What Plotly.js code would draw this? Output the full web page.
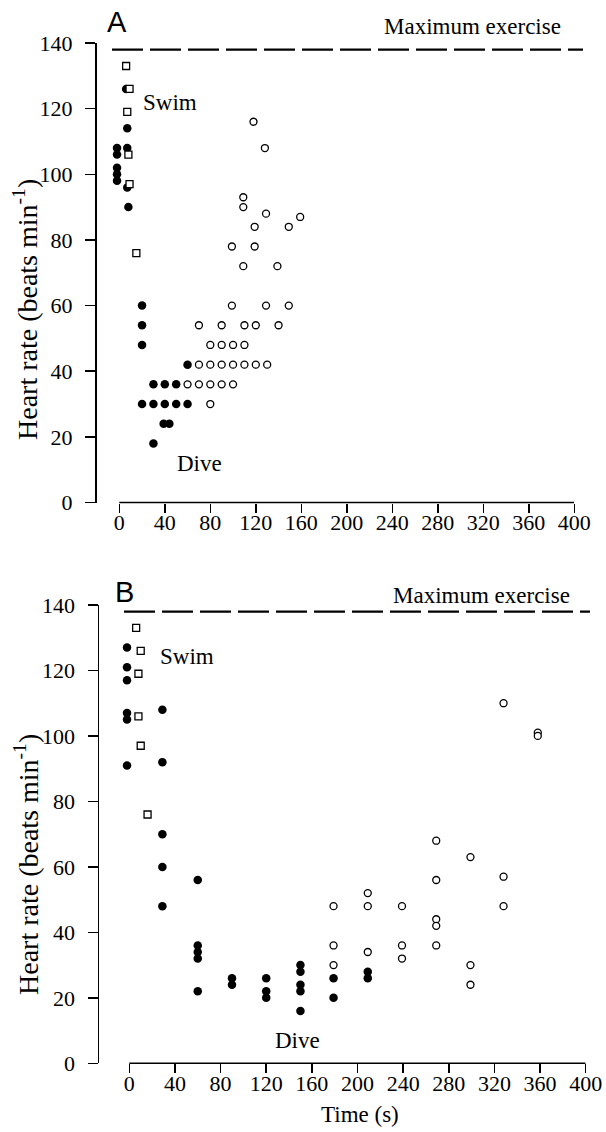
<!DOCTYPE html>
<html>
<head>
<meta charset="utf-8">
<script src="https://cdn.plot.ly/plotly-3.0.1.min.js"></script>
<style>html,body{margin:0;padding:0;background:#fff;}</style>
</head>
<body>
<div id="chart" style="width:606px;height:1132px;"></div>
<script>
// ---------- DATA ----------
const xTicks = [0, 40, 80, 120, 160, 200, 240, 280, 320, 360, 400];
const yTicks = [0, 20, 40, 60, 80, 100, 120, 140];
const maxExercise = 138;

// Panel A
const aSwimT  = [6, 9, 7, 8, 9, 15];
const aSwimHR = [133, 126, 119, 106, 97, 76];
const aDiveT  = [-2, -2, -2, -2, -2, 6, 7, 7, 7, 8, 20, 20, 20, 60, 30, 40, 50, 20, 30, 40, 50, 60, 39, 44, 30];
const aDiveHR = [108, 106, 102, 100, 98, 126, 114, 108, 96, 90, 60, 54, 48, 42, 36, 36, 36, 30, 30, 30, 30, 30, 24, 24, 18];
const aRecT   = [118, 128, 109, 109, 129, 119, 149, 159, 99, 119, 109, 139,
                 99, 129, 149, 70, 90, 110, 120, 140, 80, 90, 100, 110,
                 70, 80, 90, 100, 110, 120, 130, 60, 70, 80, 90, 100, 80];
const aRecHR  = [116, 108, 93, 90, 88, 84, 84, 87, 78, 78, 72, 72,
                 60, 60, 60, 54, 54, 54, 54, 54, 48, 48, 48, 48,
                 42, 42, 42, 42, 42, 42, 42, 36, 36, 36, 36, 36, 30];

// Panel B
const bSwimT  = [6, 10, 8, 8, 10, 16];
const bSwimHR = [133, 126, 119, 106, 97, 76];
const bDiveT  = [-2, -2, -2, -2, -2, -2, 29, 29, 29, 29, 29, 60, 60, 60, 60, 60,
                 90, 90, 120, 120, 120, 150, 150, 150, 150, 150, 179, 179, 209, 209];
const bDiveHR = [127, 121, 117, 107, 105, 91, 108, 92, 70, 60, 48, 56, 36, 34, 32, 22,
                 26, 24, 26, 22, 20, 30, 28, 24, 22, 16, 26, 20, 28, 26];
const bRecT   = [179, 179, 179, 209, 209, 209, 239, 239, 239, 269, 269, 269, 269, 269,
                 299, 299, 299, 328, 328, 328, 358, 358];
const bRecHR  = [48, 36, 30, 52, 48, 34, 48, 36, 32, 68, 56, 44, 42, 36,
                 63, 30, 24, 110, 57, 48, 101, 100];

// ---------- LAYOUT HELPERS ----------
const W = 606, H = 1132;
const fx = p => p / W;
const fy = p => 1 - p / H;
const SERIF = '"Liberation Serif", "DejaVu Serif", serif';
const SANS = '"Liberation Sans", Arial, sans-serif';

function filled(x, y, xa, ya) {
  return {x: x, y: y, xaxis: xa, yaxis: ya, type: 'scatter', mode: 'markers',
    marker: {symbol: 'circle', size: 8.5, color: '#000', line: {width: 0}}, hoverinfo: 'x+y'};
}
function openC(x, y, xa, ya) {
  return {x: x, y: y, xaxis: xa, yaxis: ya, type: 'scatter', mode: 'markers',
    marker: {symbol: 'circle', size: 7, color: '#fff', line: {width: 1.3, color: '#000'}}, hoverinfo: 'x+y'};
}
function square(x, y, xa, ya) {
  return {x: x, y: y, xaxis: xa, yaxis: ya, type: 'scatter', mode: 'markers',
    marker: {symbol: 'square', size: 7, color: '#fff', line: {width: 1.3, color: '#000'}}, hoverinfo: 'x+y'};
}

const data = [
  filled(aDiveT, aDiveHR, 'x', 'y'),
  openC(aRecT, aRecHR, 'x', 'y'),
  square(aSwimT, aSwimHR, 'x', 'y'),
  filled(bDiveT, bDiveHR, 'x2', 'y2'),
  openC(bRecT, bRecHR, 'x2', 'y2'),
  square(bSwimT, bSwimHR, 'x2', 'y2')
];

// panel geometry (pixels): y-axis line position, x=0 and x=400 positions
const A = {yAxisPx: 96.5, x0Px: 119.3, x400Px: 574.3, topPx: 43, botPx: 502.5};
const B = {yAxisPx: 99, x0Px: 129.3, x400Px: 585.7, topPx: 605, botPx: 1063.3};
function xMin(P) { return -400 * (P.x0Px - P.yAxisPx) / (P.x400Px - P.x0Px); }

function xAxis(P, anchor) {
  return {domain: [fx(P.yAxisPx), fx(P.x400Px)], range: [xMin(P), 400], anchor: anchor,
    tickmode: 'array', tickvals: xTicks, ticktext: xTicks.map(String),
    ticks: 'outside', ticklen: 9, tickwidth: 1.5, tickcolor: '#000', ticklabelstandoff: -9,
    showline: false, showgrid: false, zeroline: false,
    tickfont: {family: SERIF, size: 22, color: '#000'}, fixedrange: true};
}
function yAxis(P, anchor) {
  return {domain: [fy(P.botPx), fy(P.topPx)], range: [0, 140], anchor: anchor,
    tickmode: 'array', tickvals: yTicks, ticktext: yTicks.map(String),
    ticks: 'outside', ticklen: 10, tickwidth: 1.5, tickcolor: '#000', ticklabelstandoff: 8,
    showline: true, linewidth: 1.5, linecolor: '#000', showgrid: false, zeroline: false,
    tickfont: {family: SERIF, size: 22, color: '#000'}, fixedrange: true};
}

function ann(text, px, py, size, family, extra) {
  return Object.assign({text: text, xref: 'paper', yref: 'paper', x: fx(px), y: fy(py),
    xanchor: 'center', yanchor: 'middle', showarrow: false,
    font: {family: family, size: size, color: '#000'}}, extra || {});
}

const layout = {
  width: W, height: H,
  margin: {l: 0, r: 0, t: 0, b: 0},
  paper_bgcolor: '#fff', plot_bgcolor: 'rgba(0,0,0,0)',
  showlegend: false,
  font: {family: SERIF, size: 22, color: '#000'},
  xaxis: xAxis(A, 'y'),
  yaxis: yAxis(A, 'x'),
  xaxis2: xAxis(B, 'y2'),
  yaxis2: yAxis(B, 'x2'),
  shapes: [
    // x-axis spines from 0 to 400
    {type: 'line', xref: 'x', yref: 'paper', x0: 0, x1: 400, y0: fy(A.botPx), y1: fy(A.botPx),
     line: {color: '#000', width: 1.5}},
    {type: 'line', xref: 'x2', yref: 'paper', x0: 0, x1: 400, y0: fy(B.botPx), y1: fy(B.botPx),
     line: {color: '#000', width: 1.5}},
    // maximum exercise reference lines
    {type: 'line', xref: 'paper', yref: 'y', x0: fx(112), x1: fx(583), y0: maxExercise, y1: maxExercise,
     line: {color: '#000', width: 2.3, dash: '31px,7px'}},
    {type: 'line', xref: 'paper', yref: 'y2', x0: fx(124), x1: fx(590), y0: maxExercise, y1: maxExercise,
     line: {color: '#000', width: 2.3, dash: '31px,7px'}}
  ],
  annotations: [
    ann('A', 117, 22, 29, SANS),
    ann('B', 124, 592, 29, SANS),
    ann('Maximum exercise', 472, 27, 23, SERIF),
    ann('Maximum exercise', 481, 595, 23, SERIF),
    ann('Swim', 170, 103, 23, SERIF),
    ann('Swim', 187, 656, 23, SERIF),
    ann('Dive', 199, 463, 23, SERIF),
    ann('Dive', 297, 1040, 23, SERIF),
    ann('Heart rate (beats min<sup>-1</sup>)', 26, 310, 28, SERIF, {textangle: -90}),
    ann('Heart rate (beats min<sup>-1</sup>)', 26, 865, 28, SERIF, {textangle: -90}),
    ann('Time (s)', 360, 1114, 23, SERIF)
  ]
};

Plotly.newPlot('chart', data, layout, {staticPlot: true, displayModeBar: false});
</script>
</body>
</html>
